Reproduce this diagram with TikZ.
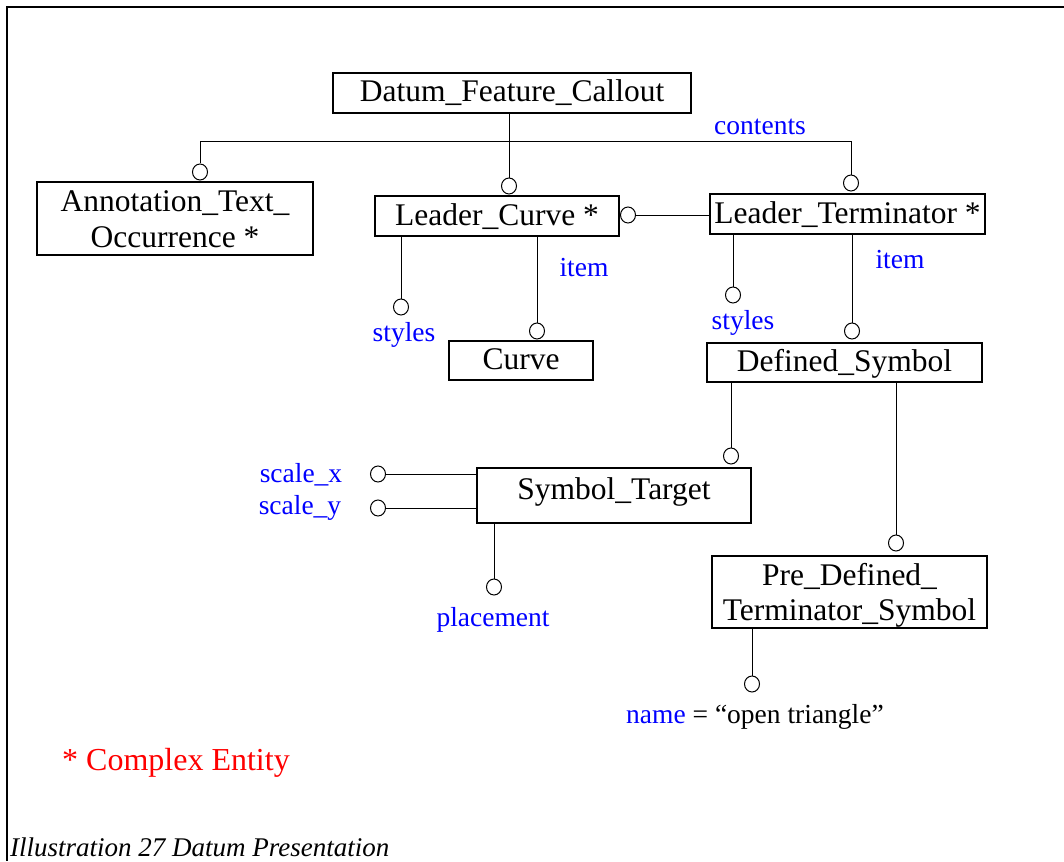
\documentclass[tikz,border=0pt]{standalone}
\usepackage{fontspec}
\setmainfont{Liberation Serif}
\usetikzlibrary{shapes.geometric}
\tikzset{
 entity/.style={draw, line width=1.2pt, inner sep=0pt, font=\fontsize{31.5}{35.5}\selectfont, align=center, text height=22pt, text depth=4pt},
 etext/.style={inner sep=0pt, align=center},
 ring/.style={draw, ellipse, minimum width=15pt, minimum height=16pt, inner sep=0pt, line width=1pt, fill=white},
 lbl/.style={text=blue, font=\fontsize{27.5}{30}\selectfont, inner sep=0pt},
 conn/.style={line width=1pt}
}
\begin{document}
\begin{tikzpicture}[x=1pt,y=-1pt]
\useasboundingbox (0,0) rectangle (1064,861);
\draw[line width=1.5pt] (1064,7) -- (7,7) -- (7,861);
% entities
\node[entity, minimum width=358pt, minimum height=40pt] (dfc) at (512,93) {Datum\_Feature\_Callout};
\node[entity, minimum width=276pt, minimum height=73pt] (atx) at (175,218.5) {};
\node[etext, font=\fontsize{31.5}{36}\selectfont] (atxt) at (175,219) {Annotation\_Text\_\\Occurrence *};
\node[entity, minimum width=244pt, minimum height=40pt] (lc) at (497,216) {Leader\_Curve *};
\node[entity, minimum width=275pt, minimum height=40pt] (lt) at (847.5,214) {Leader\_Terminator *};
\node[entity, minimum width=144pt, minimum height=39pt] (cv) at (521,360.5) {Curve};
\node[entity, minimum width=275pt, minimum height=39pt] (ds) at (844.5,362.5) {Defined\_Symbol};
\node[entity, minimum width=274pt, minimum height=55pt] (st) at (614,495.5) {};
\node[etext, font=\fontsize{31.5}{36}\selectfont, text height=22pt, text depth=4pt] (stt) at (614,490) {Symbol\_Target};
\node[entity, minimum width=275pt, minimum height=72pt] (pd) at (849.5,592) {};
\node[etext, font=\fontsize{31.5}{35}\selectfont] (pdt) at (849.5,595) {Pre\_Defined\_\\Terminator\_Symbol};
% rings
\node[ring] (c1) at (200,172) {};
\node[ring] (c2) at (509,186) {};
\node[ring] (c3) at (851,183) {};
\node[ring] (c4) at (628,215) {};
\node[ring] (c5) at (401,307) {};
\node[ring] (c6) at (537,331) {};
\node[ring] (c7) at (733,295) {};
\node[ring] (c8) at (852,331) {};
\node[ring] (c9) at (731,456) {};
\node[ring] (c10) at (896,543) {};
\node[ring] (c11) at (378,474) {};
\node[ring] (c12) at (378,508) {};
\node[ring] (c13) at (494,587) {};
\node[ring] (c14) at (752,684) {};
% connectors
\coordinate (busL) at (200,142);
\coordinate (busR) at (851,142);
\draw[conn] (c1.north) -- (busL) -- (busR) -- (c3.north);
\draw[conn] (dfc.south -| c2) -- (c2.north);
\draw[conn] (c4.east) -- (c4.east -| lt.west);
\draw[conn] (lc.south -| c5) -- (c5.north);
\draw[conn] (lc.south -| c6) -- (c6.north);
\draw[conn] (lt.south -| c7) -- (c7.north);
\draw[conn] (lt.south -| c8) -- (c8.north);
\draw[conn] (ds.south -| c9) -- (c9.north);
\draw[conn] (ds.south -| c10) -- (c10.north);
\draw[conn] (c11.east) -- (c11.east -| st.west);
\draw[conn] (c12.east) -- (c12.east -| st.west);
\draw[conn] (st.south -| c13) -- (c13.north);
\draw[conn] (pd.south -| c14) -- (c14.north);
% labels
\node[lbl] (l1) at (760,127) {contents};
\node[lbl] (l2) at (404,335) {styles};
\node[lbl] (l3) at (584,268) {item};
\node[lbl] (l4) at (743,323) {styles};
\node[lbl] (l5) at (900,260) {item};
\node[lbl] (l6) at (301,475) {scale\_x};
\node[lbl] (l7) at (300,508) {scale\_y};
\node[lbl] (l8) at (493,620) {placement};
\node[lbl, text=black] (l9) at (755,717) {\textcolor{blue}{name} = “open triangle”};
\node[text=red, font=\fontsize{32}{36}\selectfont, inner sep=0pt, anchor=west] (ce) at (62,763) {* Complex Entity};
\node[font=\fontsize{27}{30}\selectfont\itshape, inner sep=0pt, anchor=base west] (cap) at (10,856) {Illustration 27 Datum Presentation};
\end{tikzpicture}
\end{document}
